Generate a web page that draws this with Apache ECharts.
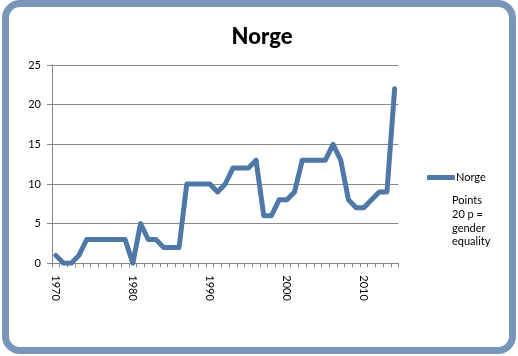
<!DOCTYPE html>
<html>
<head>
<meta charset="utf-8">
<script src="https://cdn.jsdelivr.net/npm/echarts@6/dist/echarts.min.js"></script>
<style>
  html, body { margin: 0; padding: 0; background: #ffffff; }
  #wrap { position: relative; width: 518px; height: 356px; }
  #chart { position: absolute; left: 0; top: 0; width: 518px; height: 356px; }
  #frame { position: absolute; left: 2px; top: 0px; width: 514px; height: 354px;
           box-sizing: border-box; border: 7px solid #7896ba; border-radius: 18px; pointer-events: none; }
</style>
</head>
<body>
<div id="wrap">
  <div id="chart"></div>
  <div id="frame"></div>
</div>
<script>
// Years (categories) 1970–2014
const years = [];
for (let y = 1970; y <= 2014; y++) years.push(String(y));

// Norge series values (points; 20 p = gender equality)
const norge = [
  1, 0, 0, 1, 3, 3, 3, 3, 3, 3,
  0, 5, 3, 3, 2, 2, 2, 10, 10, 10,
  10, 9, 10, 12, 12, 12, 13, 6, 6, 8,
  8, 9, 13, 13, 13, 13, 15, 13, 8, 7,
  7, 8, 9, 9, 22
];

const xTickLabels = ['1970', '1980', '1990', '2000', '2010'];
const yTicks = [0, 5, 10, 15, 20, 25];
const noteLines = ['Points', '20 p =', 'gender', 'equality'];

const FONT = 'Lato, "Open Sans", sans-serif';
const LINE_COLOR = '#4e79a7';
const chart = echarts.init(document.getElementById('chart'), null, { renderer: 'canvas' });

chart.setOption({
  animation: false,
  backgroundColor: '#ffffff',
  title: {
    text: 'Norge',
    left: 257, top: 21, textAlign: 'center',
    textStyle: { fontFamily: FONT, fontSize: 22, fontWeight: 900, color: '#000000' }
  },
  legend: {
    data: ['Norge'],
    left: 422, top: 167,
    icon: 'roundRect',
    itemWidth: 28, itemHeight: 5, itemGap: 2,
    itemStyle: { color: LINE_COLOR },
    textStyle: { fontFamily: FONT, fontSize: 11, color: '#000000', padding: [0, 0, 0, -4] }
  },
  graphic: [{
    type: 'text', left: 452, top: 194,
    style: { text: noteLines.join('\n'), fontFamily: FONT, fontSize: 11, lineHeight: 13.7, fill: '#000000' }
  }],
  grid: { left: 52, right: 119.5, top: 65, bottom: 92.7 },
  xAxis: {
    type: 'category',
    data: years,
    boundaryGap: true,
    axisLine: { lineStyle: { color: '#868686', width: 1 } },
    axisTick: { show: true, interval: 0, length: 4, lineStyle: { color: '#868686' } },
    axisLabel: {
      interval: (idx, val) => xTickLabels.indexOf(val) >= 0,
      rotate: -90, margin: 12,
      fontFamily: FONT, fontSize: 11, color: '#000000'
    },
    splitLine: { show: false }
  },
  yAxis: {
    type: 'value',
    min: yTicks[0], max: yTicks[yTicks.length - 1], interval: 5,
    axisLine: { show: true, lineStyle: { color: '#868686', width: 1 } },
    axisTick: { show: true, length: 5, lineStyle: { color: '#868686' } },
    axisLabel: { margin: 11, fontFamily: FONT, fontSize: 11, color: '#000000' },
    splitLine: { show: true, lineStyle: { color: '#8a8a8a', width: 1 } }
  },
  series: [{
    name: 'Norge',
    type: 'line',
    data: norge,
    symbol: 'none',
    lineStyle: { color: LINE_COLOR, width: 5, join: 'round', cap: 'round' },
    itemStyle: { color: LINE_COLOR }
  }]
});
</script>
</body>
</html>
